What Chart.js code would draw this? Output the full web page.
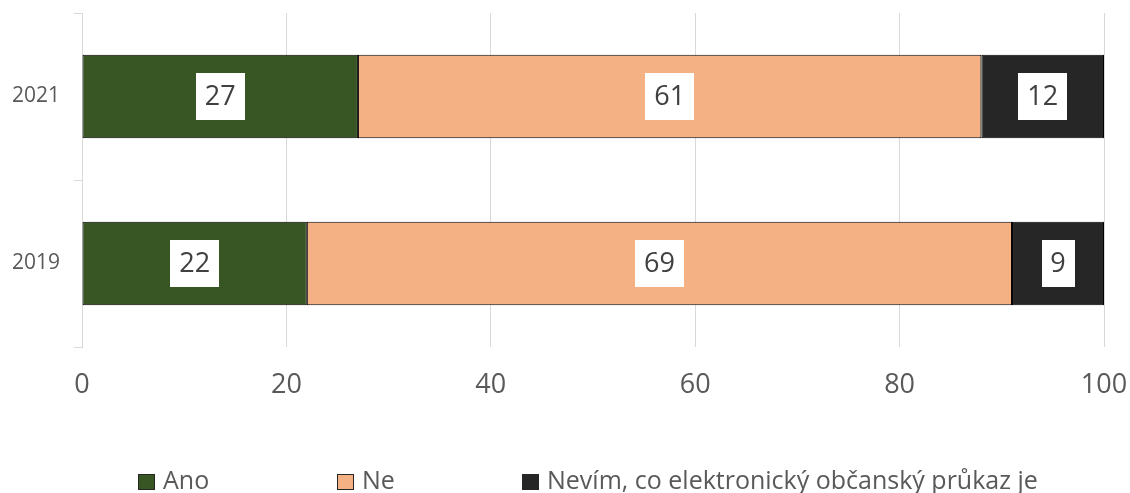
<!DOCTYPE html>
<html>
<head>
<meta charset="utf-8">
<script src="https://cdn.jsdelivr.net/npm/chart.js@4"></script>
<style>
  html, body { margin: 0; padding: 0; background: #fff; }
  #wrap { width: 1130px; height: 493px; }
</style>
</head>
<body>
<div id="wrap"><canvas id="graf"></canvas></div>
<script>
// hodnoty v %
const roky = ["2021", "2019"];
const ano = [27, 22];
const ne = [61, 69];
const nevim = [12, 9];
const osaX = [0, 20, 40, 60, 80, 100];

const nazvy = ["Ano", "Ne", "Nevím, co elektronický občanský průkaz je"];
const barvy = ["#375623", "#f4b183", "#262626"];
const legendaX = [138, 337, 522];

const font = "'Open Sans', 'DejaVu Sans', sans-serif";

// popisky hodnot v bílých rámečcích
const popisky = {
  id: "popisky",
  afterDatasetsDraw(chart) {
    const ctx = chart.ctx;
    ctx.save();
    ctx.font = "27px " + font;
    ctx.textAlign = "center";
    ctx.textBaseline = "middle";
    chart.data.datasets.forEach((ds, i) => {
      const meta = chart.getDatasetMeta(i);
      meta.data.forEach((bar, j) => {
        const p = bar.getProps(["x", "y", "base"], true);
        const cx = (p.x + p.base) / 2;
        const text = String(ds.data[j]);
        const w = Math.round(ctx.measureText(text).width + 18);
        const h = 47;
        ctx.fillStyle = "#ffffff";
        ctx.fillRect(Math.round(cx - w / 2), Math.round(p.y - h / 2), w, h);
        ctx.fillStyle = "#404040";
        ctx.fillText(text, cx, p.y + 1);
      });
    });
    ctx.restore();
  }
};

// legenda dole
const legenda = {
  id: "legenda",
  afterDraw(chart) {
    const ctx = chart.ctx;
    ctx.save();
    ctx.font = "25px " + font;
    ctx.textBaseline = "middle";
    chart.data.datasets.forEach((ds, i) => {
      const x = legendaX[i];
      const y = 482;
      ctx.fillStyle = ds.backgroundColor;
      ctx.fillRect(x + 0.5, y - 7.5, 16, 15);
      ctx.strokeStyle = "#262626";
      ctx.lineWidth = 1;
      ctx.strokeRect(x + 0.5, y - 7.5, 16, 15);
      ctx.fillStyle = "#595959";
      ctx.fillText(ds.label, x + 25, y);
    });
    ctx.restore();
  }
};

function dataset(i, data) {
  return {
    label: nazvy[i],
    data: data,
    backgroundColor: barvy[i],
    borderColor: "#000000",
    borderWidth: 1,
    borderSkipped: false,
    categoryPercentage: 1,
    barPercentage: 0.5
  };
}

new Chart(document.getElementById("graf"), {
  type: "bar",
  data: {
    labels: roky,
    datasets: [dataset(0, ano), dataset(1, ne), dataset(2, nevim)]
  },
  options: {
    indexAxis: "y",
    responsive: true,
    maintainAspectRatio: false,
    animation: false,
    layout: { padding: { top: 13, right: 26, left: 0, bottom: 76 } },
    plugins: {
      legend: { display: false },
      tooltip: { enabled: false }
    },
    scales: {
      x: {
        stacked: true,
        min: 0,
        max: 100,
        afterBuildTicks: (s) => { s.ticks = osaX.map(v => ({ value: v })); },
        afterFit: (s) => { s.height = 70; s.paddingLeft = 0; s.paddingRight = 0; },
        grid: { color: "#d9d9d9", drawTicks: false },
        border: { display: false },
        ticks: { color: "#595959", font: { size: 27, family: font }, padding: 22 }
      },
      y: {
        stacked: true,
        afterFit: (s) => { s.width = 82; s.paddingTop = 0; s.paddingBottom = 0; },
        grid: { color: "#d9d9d9", drawOnChartArea: false, drawTicks: true, tickLength: 8, offset: true },
        border: { display: true, color: "#d9d9d9" },
        ticks: { color: "#595959", font: { size: 21, family: font }, padding: 14 }
      }
    }
  },
  plugins: [popisky, legenda]
});
</script>
</body>
</html>
